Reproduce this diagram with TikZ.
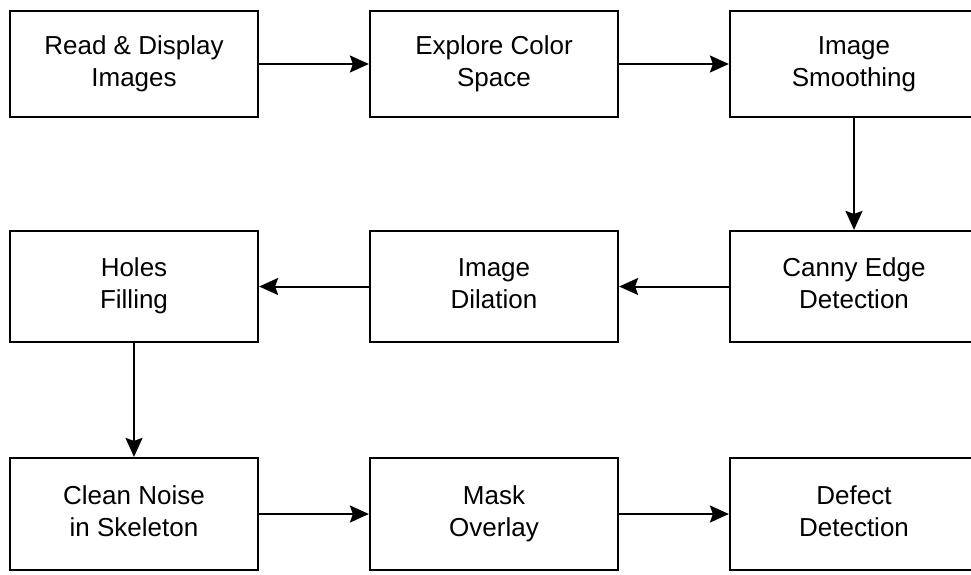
\documentclass[tikz,border=0pt]{standalone}
\usepackage{fontspec}
\setmainfont{Liberation Sans}
\usetikzlibrary{arrows.meta}

\tikzset{
  stepbox/.style={draw=black, line width=2.2pt, fill=white, minimum width=248pt,
    align=center, inner sep=0pt,
    font=\fontsize{26pt}{32pt}\selectfont},
  flow/.style={line width=2pt, -{Stealth[length=19pt,width=17pt,inset=3pt]}}
}

\begin{document}
\begin{tikzpicture}[x=1pt, y=-1pt]
  \useasboundingbox (0,0) rectangle (971,574);
  \clip (0,0) rectangle (971,574);

  % first row
  \node[stepbox, minimum height=106pt] (read)   at (134,64)  {\strut Read \& Display\\\strut Images};
  \node[stepbox, minimum height=106pt] (color)  at (494,64)  {\strut Explore Color\\\strut Space};
  \node[stepbox, minimum height=106pt] (smooth) at (854,64)  {\strut Image\\\strut Smoothing};

  % second row
  \node[stepbox, minimum height=111pt] (holes)  at (134,286.5) {\strut Holes\\\strut Filling};
  \node[stepbox, minimum height=111pt] (dilate) at (494,286.5) {\strut Image\\\strut Dilation};
  \node[stepbox, minimum height=111pt] (canny)  at (854,286.5) {\strut Canny Edge\\\strut Detection};

  % third row
  \node[stepbox, minimum height=112pt] (clean)  at (134,514) {\strut Clean Noise\\\strut in Skeleton};
  \node[stepbox, minimum height=112pt] (mask)   at (494,514) {\strut Mask\\\strut Overlay};
  \node[stepbox, minimum height=112pt] (defect) at (854,514) {\strut Defect\\\strut Detection};

  % connectors
  \draw[flow] (read) -- (color);
  \draw[flow] (color) -- (smooth);
  \draw[flow] (smooth) -- (canny);
  \draw[flow] (canny) -- (dilate);
  \draw[flow] (dilate) -- (holes);
  \draw[flow] (holes) -- (clean);
  \draw[flow] (clean) -- (mask);
  \draw[flow] (mask) -- (defect);
\end{tikzpicture}
\end{document}
